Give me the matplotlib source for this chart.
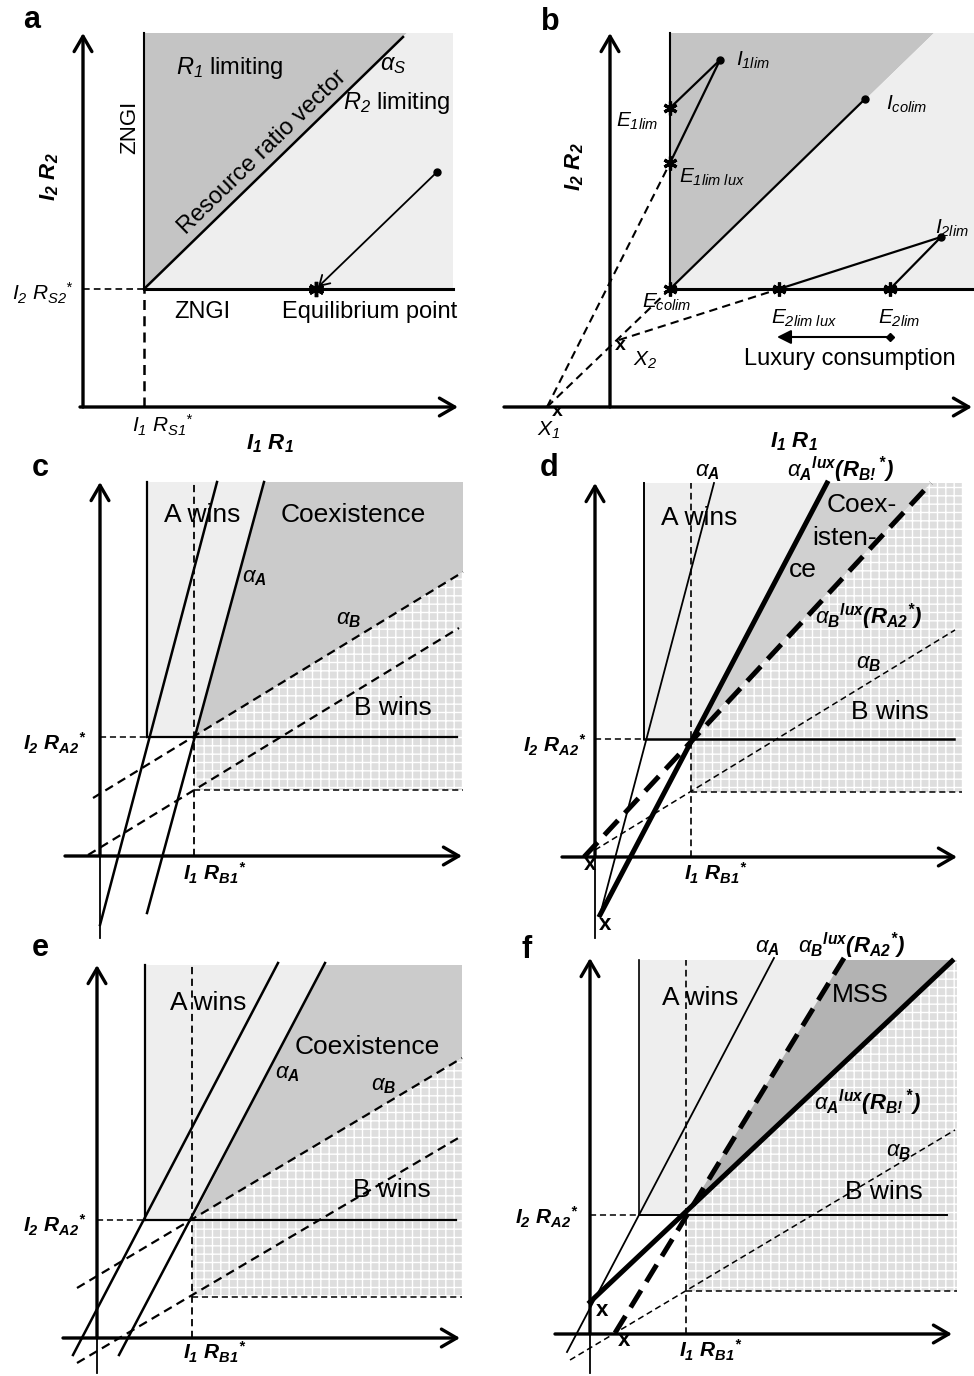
import numpy as np
import matplotlib.pyplot as plt
from matplotlib.patches import Polygon

plt.rcParams['font.family'] = ['Liberation Sans', 'DejaVu Sans']
plt.rcParams['mathtext.fontset'] = 'custom'
plt.rcParams['mathtext.rm'] = 'Liberation Sans:italic'
plt.rcParams['mathtext.it'] = 'Liberation Sans:italic'
plt.rcParams['mathtext.bf'] = 'Liberation Sans:italic:bold'
plt.rcParams['hatch.linewidth'] = 1.0

W, H = 974, 1376
fig = plt.figure(figsize=(W / 100, H / 100), dpi=100)

# colours of the regions
DARK = '#c4c4c4'
LIGHT = '#eeeeee'
COEX = '#cbcbcb'
BRICK = '#dedede'
MSSC = '#b3b3b3'

# ---------------- data (panel units, origin = where the axes cross) ----------------
# panel a
a_origin = (83, 407)
a_rstar = (61, 118)
a_top, a_right = 374, 370
a_ratio_x = [61, 320]
a_ratio_y = [118, 370]
a_supply = (354, 235)
a_equil = (233, 118)

# panel b
b_origin = (610, 407)
b_rstar = (60, 118)
b_top, b_right = 374, 364
b_diag_top = (324, 374)
b_supply_pts = {'I1lim': (110, 347), 'Icolim': (255, 308), 'I2lim': (331, 170)}
b_equil_pts = {'E1lim': (60, 299), 'E1limlux': (60, 244), 'Ecolim': (60, 118),
               'E2limlux': (169, 118), 'E2lim': (280, 118)}
b_x1 = (-63, 0)
b_x2 = (9, 67)
b_lux_arrow_x = [280, 167]
b_lux_arrow_y = 70

# panel c
c_origin = (100, 856)
c_ra = (47, 119)      # (R_A1*, R_A2*)
c_rb = (94, 66)       # (R_B1*, R_B2*)
c_top, c_right = 374, 363
c_lineA1 = ([0, 117], [-69, 374])
c_alphaA = ([47, 164], [-57, 374])
c_alphaB = ([-7, 363], [58, 284])
c_lineB2 = ([-12, 359], [1, 228])

# panel d
d_origin = (595, 857)
d_ra = (49, 118)
d_rb = (96, 65)
d_top, d_right = 374, 367
d_alphaA = ([5, 119], [-58, 374])
d_alphaA_lux = ([5, 232], [-58, 374])
d_alphaB_lux = ([-11, 336], [0, 374])
d_alphaB = ([0, 360], [7, 227])

# panel e
e_origin = (97, 1338)
e_ra = (48, 118)
e_rb = (95, 41)
e_top, e_right = 373, 365
e_lineA1 = ([-24, 181], [-17, 375])
e_alphaA = ([22, 228], [-17, 375])
e_alphaB = ([-20, 365], [50, 280])
e_lineB2 = ([-20, 363], [-25, 201])

# panel f
f_origin = (590, 1334)
f_ra = (49, 119)
f_rb = (96, 43)
f_top, f_right = 374, 367
f_alphaA = ([-23, 184], [-18, 376])
f_alphaA_lux = ([0, 362], [32, 373])
f_alphaB_lux = ([25, 254], [1, 376])
f_alphaB = ([-20, 365], [-26, 204])


# ---------------- helpers ----------------
def panel(origin):
    ox, oy = origin
    ax = fig.add_axes([0, 0, 1, 1])
    ax.set_xlim(-ox, W - ox)
    ax.set_ylim(oy - H, oy)
    ax.axis('off')
    ax.patch.set_alpha(0)
    return ax


def arrow_axes(ax, xleft, xright, ytop, ybottom=0):
    ap = dict(arrowstyle='->,head_length=0.55,head_width=0.32', lw=2.4, color='k',
              mutation_scale=20, shrinkA=0, shrinkB=0)
    ax.annotate('', xy=(xright, 0), xytext=(xleft, 0), arrowprops=ap)
    ax.annotate('', xy=(0, ytop), xytext=(0, 0), arrowprops=ap)
    if ybottom < 0:
        ax.plot([0, 0], [ybottom, 0], color='k', lw=1.3)


def fill(ax, xs, ys, color, hatch=None):
    if hatch:
        p = Polygon(np.column_stack([xs, ys]), closed=True, facecolor=color,
                    edgecolor='white', hatch=hatch, lw=0, zorder=0)
    else:
        p = Polygon(np.column_stack([xs, ys]), closed=True, facecolor=color,
                    lw=0, zorder=0)
    ax.add_patch(p)


def at_y(line, y):
    (x0, x1), (y0, y1) = line
    return x0 + (y - y0) * (x1 - x0) / (y1 - y0)


def at_x(line, x):
    (x0, x1), (y0, y1) = line
    return y0 + (x - x0) * (y1 - y0) / (x1 - x0)


def label(px, py, s, size=14, **kw):
    fig.text(px / W, 1 - py / H, s, fontsize=size, ha='center', va='center', **kw)


thin_dash = (0, (4, 2.5))
thick_dash = (0, (4, 2))
RA2 = r'$\mathbf{I_2\ R_{A2}}{}^{\mathbf{*}}$'
RB1 = r'$\mathbf{I_1\ R_{B1}}{}^{\mathbf{*}}$'
AL_A = r'$\alpha_{\mathbf{A}}$'
AL_B = r'$\alpha_{\mathbf{B}}$'
AL_A_LUX = r'$\alpha_{\mathbf{A}}{}^{\mathbf{lux}}\mathbf{(R_{B!}{}^{*})}$'
AL_B_LUX = r'$\alpha_{\mathbf{B}}{}^{\mathbf{lux}}\mathbf{(R_{A2}{}^{*})}$'

# ---------------- panel a ----------------
ax = panel(a_origin)
rx, ry = a_rstar
fill(ax, [rx, rx, 324], [ry, a_top, a_top], DARK)
fill(ax, [rx, 324, a_right, a_right], [ry, a_top, a_top, ry], LIGHT)
ax.plot([rx, rx], [ry, a_top], color='k', lw=1.5)
ax.plot([rx, a_right], [ry, ry], color='k', lw=2.2)
ax.plot(a_ratio_x, a_ratio_y, color='k', lw=1.8)
ax.plot([0, rx], [ry, ry], color='k', lw=1.2, linestyle=thin_dash)
ax.plot([rx, rx], [0, ry], color='k', lw=1.8, linestyle=thin_dash)
ax.plot(*a_supply, 'o', color='k', ms=5)
ax.plot(*a_equil, marker=(6, 2, 0), color='k', ms=11, mew=2.5)
ax.annotate('', xy=a_equil, xytext=a_supply,
            arrowprops=dict(arrowstyle='->,head_length=0.5,head_width=0.3', lw=1.3,
                            color='k', mutation_scale=14, shrinkA=0, shrinkB=2))
arrow_axes(ax, -3, 375, 374)

label(32, 20, 'a', size=22, fontweight='bold')
label(50, 177, r'$\mathbf{I_2\ R_2}$', size=16, rotation=90)
label(130, 127, 'ZNGI', size=16, rotation=90)
label(230, 68, r'$R_1$ limiting', size=17)
label(393, 65, r'$\alpha_S$', size=17)
label(397, 103, r'$R_2$ limiting', size=17)
label(262, 152, 'Resource ratio vector', size=17, rotation=44.2)
label(43, 293, r'$I_2\ R_{S2}{}^{*}$', size=15)
label(202, 312, 'ZNGI', size=17)
label(370, 312, 'Equilibrium point', size=17)
label(163, 425, r'$I_1\ R_{S1}{}^{*}$', size=15)
label(270, 444, r'$\mathbf{I_1\ R_1}$', size=16)

# ---------------- panel b ----------------
ax = panel(b_origin)
rx, ry = b_rstar
fill(ax, [rx, rx, b_diag_top[0]], [ry, b_top, b_top], DARK)
fill(ax, [rx, b_diag_top[0], b_right, b_right], [ry, b_top, b_top, ry], LIGHT)
ax.plot([rx, rx], [ry, b_top], color='k', lw=1.5)
ax.plot([rx, b_right], [ry, ry], color='k', lw=2.2)
E = b_equil_pts
S = b_supply_pts
for s_name, e_names in [('I1lim', ['E1lim', 'E1limlux']), ('Icolim', ['Ecolim']),
                        ('I2lim', ['E2limlux', 'E2lim'])]:
    for e_name in e_names:
        ax.plot([S[s_name][0], E[e_name][0]], [S[s_name][1], E[e_name][1]],
                color='k', lw=1.6)
for p in S.values():
    ax.plot(*p, 'o', color='k', ms=5)
for p in E.values():
    ax.plot(*p, marker=(6, 2, 0), color='k', ms=10, mew=2.3, zorder=5)
for a0, a1 in [(b_x1, E['E1limlux']), (b_x1, E['Ecolim']), (b_x2, E['E2limlux'])]:
    ax.plot([a0[0], a1[0]], [a0[1], a1[1]], color='k', lw=1.5, linestyle=thin_dash)
ax.annotate('', xy=(b_lux_arrow_x[1], b_lux_arrow_y), xytext=(b_lux_arrow_x[0], b_lux_arrow_y),
            arrowprops=dict(arrowstyle='-|>,head_length=0.6,head_width=0.3', lw=1.5,
                            color='k', mutation_scale=14, shrinkA=0, shrinkB=0))
ax.plot(b_lux_arrow_x[0], b_lux_arrow_y, 'D', color='k', ms=4)
arrow_axes(ax, -106, 362, 374)

label(550, 22, 'b', size=22, fontweight='bold')
label(575, 167, r'$\mathbf{I_2\ R_2}$', size=16, rotation=90)
label(753, 60, r'$I_{1lim}$', size=15)
label(907, 104, r'$I_{colim}$', size=15)
label(637, 121, r'$E_{1lim}$', size=15)
label(712, 177, r'$E_{1lim\ lux}$', size=15)
label(952, 228, r'$I_{2lim}$', size=15)
label(667, 302, r'$E_{colim}$', size=15)
label(804, 318, r'$E_{2lim\ lux}$', size=15)
label(899, 318, r'$E_{2lim}$', size=15)
label(850, 359, 'Luxury consumption', size=17)
label(645, 360, r'$X_2$', size=15)
label(549, 430, r'$X_1$', size=15)
label(620, 346, 'x', size=14, fontweight='bold')
label(557, 411, 'x', size=14, fontweight='bold')
label(794, 442, r'$\mathbf{I_1\ R_1}$', size=16)


# ---------------- panels c / e (same structure) ----------------
def panel_ce(origin, ra, rb, top, right, lineA1, alphaA, alphaB, lineB2):
    ax = panel(origin)
    xa = at_y(alphaA, top)
    yb = at_x(alphaB, right)
    fill(ax, [ra[0], ra[0], xa, rb[0]], [ra[1], top, top, ra[1]], LIGHT)
    fill(ax, [rb[0], xa, right, right], [ra[1], top, top, yb], COEX)
    fill(ax, [rb[0], rb[0], right, right], [rb[1], ra[1], yb, rb[1]], BRICK, hatch='++')
    ax.plot([ra[0], ra[0]], [ra[1], top], color='k', lw=1.6)
    ax.plot([ra[0], right - 6], [ra[1], ra[1]], color='k', lw=1.6)
    ax.plot([0, ra[0]], [ra[1], ra[1]], color='k', lw=1.1, linestyle=thin_dash)
    ax.plot([rb[0], rb[0]], [0, top], color='k', lw=1.3, linestyle=thin_dash)
    ax.plot([rb[0], right], [rb[1], rb[1]], color='k', lw=1.1, linestyle=thin_dash)
    ax.plot(*lineA1, color='k', lw=1.8)
    ax.plot(*alphaA, color='k', lw=1.8)
    ax.plot(*alphaB, color='k', lw=1.6, linestyle=thin_dash)
    ax.plot(*lineB2, color='k', lw=1.6, linestyle=thin_dash)
    return ax


ax = panel_ce(c_origin, c_ra, c_rb, c_top, c_right, c_lineA1, c_alphaA, c_alphaB, c_lineB2)
arrow_axes(ax, -35, 362, 374, ybottom=-82)
label(40, 468, 'c', size=22, fontweight='bold')
label(202, 515, 'A wins', size=19)
label(353, 515, 'Coexistence', size=19)
label(254, 578, AL_A, size=16)
label(349, 620, AL_B, size=16)
label(393, 708, 'B wins', size=19)
label(55, 743, RA2, size=15)
label(215, 873, RB1, size=15)

ax = panel_ce(e_origin, e_ra, e_rb, e_top, e_right, e_lineA1, e_alphaA, e_alphaB, e_lineB2)
arrow_axes(ax, -34, 363, 373, ybottom=-35)
label(40, 948, 'e', size=22, fontweight='bold')
label(208, 1003, 'A wins', size=19)
label(367, 1047, 'Coexistence', size=19)
label(287, 1073, AL_A, size=16)
label(384, 1085, AL_B, size=16)
label(392, 1190, 'B wins', size=19)
label(55, 1225, RA2, size=15)
label(215, 1352, RB1, size=15)

# ---------------- panel d ----------------
ax = panel(d_origin)
ra, rb = d_ra, d_rb
xl = at_y(d_alphaA_lux, d_top)
xbl = at_y(d_alphaB_lux, d_top)
fill(ax, [ra[0], ra[0], xl, rb[0]], [ra[1], d_top, d_top, ra[1]], LIGHT)
fill(ax, [rb[0], xl, xbl], [ra[1], d_top, d_top], '#d0d0d0')
fill(ax, [rb[0], rb[0], xbl, d_right, d_right], [rb[1], ra[1], d_top, d_top, rb[1]], BRICK, hatch='++')
ax.plot([ra[0], ra[0]], [ra[1], d_top], color='k', lw=1.4)
ax.plot([ra[0], d_right - 8], [ra[1], ra[1]], color='k', lw=1.8)
ax.plot([0, ra[0]], [ra[1], ra[1]], color='k', lw=1.1, linestyle=thin_dash)
ax.plot([rb[0], rb[0]], [0, d_top], color='k', lw=1.2, linestyle=thin_dash)
ax.plot([rb[0], d_right], [rb[1], rb[1]], color='k', lw=1.1, linestyle=thin_dash)
ax.plot(*d_alphaA, color='k', lw=1.3)
ax.plot(*d_alphaA_lux, color='k', lw=3.6)
ax.plot(*d_alphaB_lux, color='k', lw=3.6, linestyle=thick_dash)
ax.plot(*d_alphaB, color='k', lw=1.1, linestyle=thin_dash)
arrow_axes(ax, -33, 362, 374, ybottom=-81)
label(549, 468, 'd', size=22, fontweight='bold')
label(707, 472, AL_A, size=16)
label(840, 470, AL_A_LUX, size=16)
label(699, 518, 'A wins', size=19)
label(862, 505, 'Coex-', size=19)
label(845, 538, 'isten-', size=19)
label(803, 570, 'ce', size=19)
label(869, 617, AL_B_LUX, size=16)
label(869, 663, AL_B, size=16)
label(890, 712, 'B wins', size=19)
label(555, 745, RA2, size=15)
label(716, 873, RB1, size=15)
label(590, 865, 'x', size=16, fontweight='bold')
label(605, 924, 'x', size=16, fontweight='bold')

# ---------------- panel f ----------------
ax = panel(f_origin)
ra, rb = f_ra, f_rb
xl = at_y(f_alphaA_lux, f_top)
xbl = at_y(f_alphaB_lux, f_top)
fill(ax, [ra[0], ra[0], xbl, rb[0]], [ra[1], f_top, f_top, ra[1]], LIGHT)
fill(ax, [rb[0], xbl, xl], [ra[1], f_top, f_top], MSSC)
fill(ax, [rb[0], rb[0], xl, f_right, f_right], [rb[1], ra[1], f_top, f_top, rb[1]], BRICK, hatch='++')
ax.plot([ra[0], ra[0]], [ra[1], f_top], color='k', lw=1.2)
ax.plot([ra[0], f_right - 10], [ra[1], ra[1]], color='k', lw=1.4)
ax.plot([0, ra[0]], [ra[1], ra[1]], color='k', lw=1.1, linestyle=thin_dash)
ax.plot([rb[0], rb[0]], [0, f_top], color='k', lw=1.2, linestyle=thin_dash)
ax.plot([rb[0], f_right], [rb[1], rb[1]], color='k', lw=1.1, linestyle=thin_dash)
ax.plot(*f_alphaA, color='k', lw=1.3)
ax.plot(*f_alphaA_lux, color='k', lw=3.6)
ax.plot(*f_alphaB_lux, color='k', lw=3.6, linestyle=thick_dash)
ax.plot(*f_alphaB, color='k', lw=1.1, linestyle=thin_dash)
arrow_axes(ax, -35, 362, 376, ybottom=-39)
label(527, 950, 'f', size=22, fontweight='bold')
label(767, 948, AL_A, size=16)
label(852, 946, AL_B_LUX, size=16)
label(700, 998, 'A wins', size=19)
label(860, 995, 'MSS', size=19)
label(867, 1103, AL_A_LUX, size=16)
label(899, 1152, AL_B, size=16)
label(884, 1192, 'B wins', size=19)
label(547, 1217, RA2, size=15)
label(711, 1350, RB1, size=15)
label(602, 1311, 'x', size=16, fontweight='bold')
label(624, 1341, 'x', size=16, fontweight='bold')

fig.savefig('out.png', dpi=100)
